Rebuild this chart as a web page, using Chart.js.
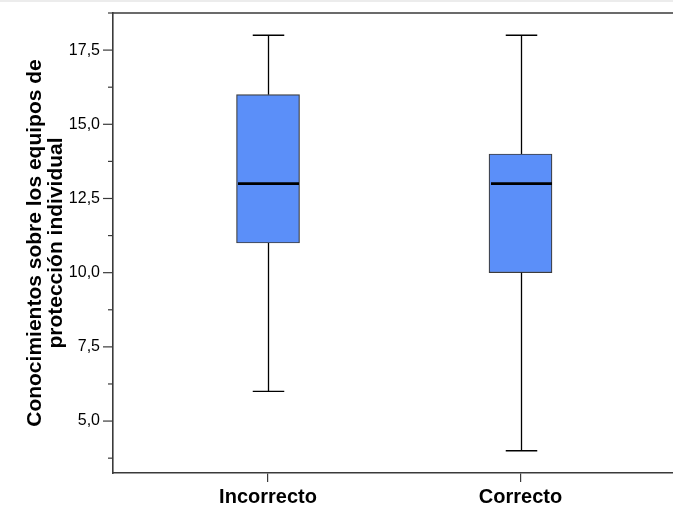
<!DOCTYPE html>
<html>
<head>
<meta charset="utf-8">
<script src="https://cdn.jsdelivr.net/npm/chart.js@4.4.1/dist/chart.umd.min.js"></script>
<style>
  html, body { margin: 0; padding: 0; background: #fff; }
  #wrap { width: 673px; height: 508px; }
</style>
</head>
<body>
<div id="wrap"><canvas id="chartBox" width="673" height="508"></canvas></div>
<script>
// datos del boxplot
const categories = ['Incorrecto', 'Correcto'];
const positions  = [1, 2];
const mins    = [6, 4];
const q1s     = [11, 10];
const medians = [13, 13];
const q3s     = [16, 14];
const maxs    = [18, 18];
const yLabelTicks = [5.0, 7.5, 10.0, 12.5, 15.0, 17.5];
const yTitle = ['Conocimientos sobre los equipos de', 'protección individual'];

const FONT = "'Liberation Sans', Arial, sans-serif";
const isLabelled = v => yLabelTicks.some(t => Math.abs(t - v) < 1e-6);

function line(ctx, x1, y1, x2, y2) {
  ctx.beginPath();
  ctx.moveTo(x1, y1);
  ctx.lineTo(x2, y2);
  ctx.stroke();
}

const boxExtras = {
  id: 'boxExtras',
  beforeDraw(chart) {
    const { ctx, width } = chart;
    ctx.save();
    ctx.fillStyle = '#fff';
    ctx.fillRect(0, 0, width, chart.height);
    ctx.fillStyle = '#ececec';
    ctx.fillRect(0, 0, width, 2);
    ctx.restore();
  },
  afterDatasetsDraw(chart) {
    const { ctx, chartArea, scales: { x, y } } = chart;
    const meta = chart.getDatasetMeta(0);
    ctx.save();
    positions.forEach((p, i) => {
      const cx = Math.round(x.getPixelForValue(p)) + 0.5;
      const half = meta.data[i].width / 2;
      const cap = half / 2;
      const yMax = y.getPixelForValue(maxs[i]);
      const yMin = y.getPixelForValue(mins[i]);
      ctx.strokeStyle = '#000';
      ctx.lineWidth = 1.3;
      line(ctx, cx, y.getPixelForValue(q3s[i]), cx, yMax);
      line(ctx, cx, y.getPixelForValue(q1s[i]), cx, yMin);
      line(ctx, cx - cap, yMax, cx + cap, yMax);
      line(ctx, cx - cap, yMin, cx + cap, yMin);
      ctx.lineWidth = 2.6;
      const yMed = y.getPixelForValue(medians[i]);
      line(ctx, cx - half + 1, yMed, cx + half - 1, yMed);
    });
    // marcas del eje y (largas en las etiquetadas)
    ctx.strokeStyle = '#3a3a3a';
    ctx.lineWidth = 1.2;
    y.ticks.forEach(t => {
      const py = y.getPixelForValue(t.value);
      const len = isLabelled(t.value) ? 10 : 5;
      line(ctx, chartArea.left - len, py, chartArea.left, py);
    });
    // borde superior
    ctx.lineWidth = 1.6;
    line(ctx, chartArea.left, chartArea.top, chartArea.right, chartArea.top);
    ctx.restore();
  }
};

const boxData = positions.map((p, i) => ({ x: p, y: [q1s[i], q3s[i]] }));

new Chart(document.getElementById('chartBox').getContext('2d'), {
  type: 'bar',
  data: {
    datasets: [{
      data: boxData,
      backgroundColor: '#5b8ff9',
      borderColor: '#3c3c3c',
      borderWidth: 1.2,
      borderSkipped: false,
      barThickness: 63
    }]
  },
  plugins: [boxExtras],
  options: {
    responsive: false,
    animation: false,
    layout: { padding: { top: 13, right: 0, left: 0, bottom: 0 } },
    plugins: { legend: { display: false }, tooltip: { enabled: false } },
    scales: {
      x: {
        type: 'linear',
        min: 0.386,
        max: 2.604,
        offset: false,
        afterFit: s => { s.height = 35; s.paddingLeft = 0; s.paddingRight = 0; },
        grid: { display: true, offset: false, drawOnChartArea: false, drawTicks: true, tickLength: 9, color: '#3a3a3a', lineWidth: 1.2 },
        border: { display: true, color: '#3a3a3a', width: 1.6 },
        ticks: {
          stepSize: 1,
          includeBounds: false,
          padding: 3,
          color: '#000',
          font: { family: FONT, size: 20, weight: 'bold' },
          callback: v => categories[positions.indexOf(v)] || ''
        }
      },
      y: {
        min: 3.25,
        max: 18.75,
        beginAtZero: false,
        afterFit: s => { s.width = 113; s.paddingTop = 0; s.paddingBottom = 0; },
        grid: { display: false, drawTicks: false },
        border: { display: true, color: '#3a3a3a', width: 1.6 },
        ticks: {
          stepSize: 1.25,
          includeBounds: false,
          autoSkip: false,
          padding: 13,
          color: '#000',
          font: { family: FONT, size: 16 },
          callback: v => isLabelled(v) ? v.toFixed(1).replace('.', ',') : ''
        },
        title: {
          display: true,
          text: yTitle,
          color: '#000',
          padding: { top: 24.5, bottom: 0 },
          font: { family: FONT, size: 21, weight: 'bold', lineHeight: 1.0 }
        }
      }
    }
  }
});
</script>
</body>
</html>
